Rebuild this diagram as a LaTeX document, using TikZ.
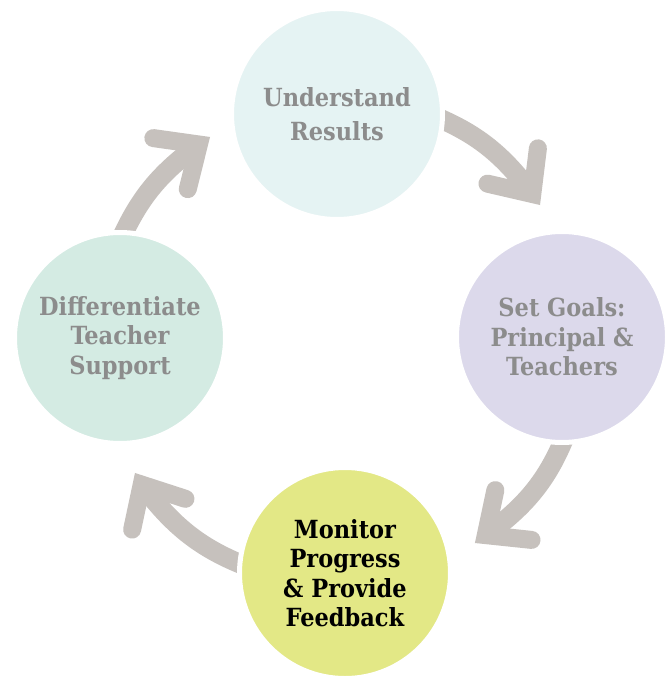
\documentclass[tikz,border=0pt]{standalone}
\usepackage{fontspec}
\newfontfamily\stagefont{DejaVu Serif Condensed}
\usetikzlibrary{calc}
\definecolor{arrowgray}{RGB}{198,193,189}
\definecolor{labelgray}{RGB}{140,140,140}
\definecolor{topfill}{RGB}{229,243,243}
\definecolor{rightfill}{RGB}{220,217,235}
\definecolor{bottomfill}{RGB}{227,232,134}
\definecolor{leftfill}{RGB}{212,235,227}
\begin{document}
\begin{tikzpicture}[x=1pt,y=-1pt,
  stage/.style={circle, minimum size=211pt, inner sep=0pt, draw=white, line width=5pt,
    align=center, text=labelgray, font=\stagefont\bfseries\fontsize{25}{29.5}\selectfont},
  shaft/.style={draw=arrowgray, line width=19.5pt, line cap=butt},
  head/.style={draw=arrowgray, line width=18pt, line cap=round, line join=miter, miter limit=10}]
\useasboundingbox (0,0) rectangle (665,677);
\fill[white] (0,0) rectangle (665,677);
% arrow geometry
\coordinate (s1) at (424,112);   \coordinate (t1) at (532.3,194);
\coordinate (s2) at (570,423.5); \coordinate (t2) at (485.8,535.1);
\coordinate (s3) at (261,571.6); \coordinate (t3) at (141.7,484.6);
\coordinate (s4) at (118,245.4); \coordinate (t4) at (198.9,144.5);
\coordinate (h1a) at ($(t1)+(167:46pt)$); \coordinate (h1b) at ($(t1)+(83:46pt)$);
\coordinate (h2a) at ($(t2)+(78:46pt)$);  \coordinate (h2b) at ($(t2)+(-6:46pt)$);
\coordinate (h3a) at ($(t3)+(-18:46pt)$); \coordinate (h3b) at ($(t3)+(-102:46pt)$);
\coordinate (h4a) at ($(t4)+(256:46pt)$); \coordinate (h4b) at ($(t4)+(172:46pt)$);
\draw[shaft] (s1) to[bend left=16] (t1);
\draw[head] (h1a) -- (t1) -- (h1b);
\draw[shaft] (s2) to[bend left=17] (t2);
\draw[head] (h2a) -- (t2) -- (h2b);
\draw[shaft] (s3) to[bend left=17] (t3);
\draw[head] (h3a) -- (t3) -- (h3b);
\draw[shaft] (s4) to[bend left=15] (t4);
\draw[head] (h4a) -- (t4) -- (h4b);
% stages
\node[stage, fill=topfill, font=\stagefont\bfseries\fontsize{25}{34.5}\selectfont] (understand) at (337,114) {Understand\\Results};
\node[stage, fill=rightfill] (goals) at (562,337) {Set Goals:\\Principal \&\\Teachers};
\node[stage, fill=bottomfill, text=black] (monitor) at (345,573) {Monitor\\Progress\\\& Provide\\Feedback};
\node[stage, fill=leftfill] (support) at (120,338) {Differentiate\\Teacher\\Support};
\end{tikzpicture}
\end{document}
